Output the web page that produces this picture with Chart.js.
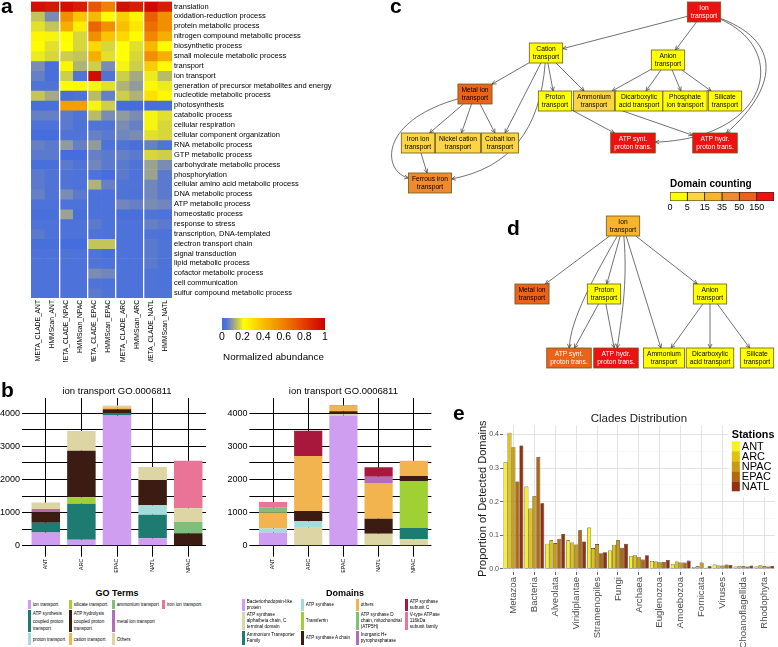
<!DOCTYPE html>
<html>
<head>
<meta charset="utf-8">
<title>ion transport figure</title>
<script src="https://cdn.jsdelivr.net/npm/chart.js@4.4.1/dist/chart.umd.min.js"></script>
<style>
  body { margin: 0; background: #fff; font-family: "Liberation Sans", Arial, sans-serif; }
  #page { position: relative; width: 778px; height: 647px; overflow: hidden; }
  canvas { position: absolute; }
  .tag { position: absolute; font-size: 21px; font-weight: bold; line-height: 1; }
  .ltitle { position: absolute; font-size: 9px; font-weight: bold; line-height: 1; transform: translateX(-50%); white-space: nowrap; }
  .legend { position: absolute; display: grid; grid-auto-flow: column; font-size: 4.6px; color: #000; }
  .legend div { border-left: 3px solid; padding-left: 1.8px; display: flex; align-items: center; white-space: pre-line; margin-bottom: 0.6px; }
</style>
</head>
<body>
<div id="page">
  <canvas id="heat" width="360" height="367" style="left:0;top:-5px"></canvas>
  <canvas id="heatBar" width="125" height="52" style="left:212px;top:311px"></canvas>
  <canvas id="goChart" width="212" height="205" style="left:0;top:383px"></canvas>
  <canvas id="domChart" width="225" height="205" style="left:210px;top:383px"></canvas>
  <canvas id="net" width="393" height="380" style="left:385px;top:0"></canvas>
  <canvas id="countBar" width="118" height="37" style="left:660px;top:176px"></canvas>
  <canvas id="clades" width="302" height="242" style="left:476px;top:405px"></canvas>

  <div class="ltitle" style="left:117px;top:589px">GO Terms</div>
  <div class="ltitle" style="left:345px;top:589px">Domains</div>
  <div id="goLegend" class="legend" style="left:28px;top:600px;grid-template-columns:41px 43px 50px 45px;grid-template-rows:10px 23px 13px"></div>
  <div id="domLegend" class="legend" style="left:242px;top:599px;grid-template-columns:59px 55px 49px 40px;grid-template-rows:13px 19px 15px"></div>

  <div class="tag" style="left:1px;top:-5px">a</div>
  <div class="tag" style="left:1px;top:379px">b</div>
  <div class="tag" style="left:390px;top:-5px">c</div>
  <div class="tag" style="left:507px;top:217px">d</div>
  <div class="tag" style="left:453px;top:402px">e</div>
</div>

<script>
const FONT = '"Liberation Sans", Arial, sans-serif';

// ---- a: heatmap ----
const heatCols = ['META_CLADE_ANT', 'HMMScan_ANT', 'META_CLADE_NPAC', 'HMMScan_NPAC', 'META_CLADE_EPAC',
  'HMMScan_EPAC', 'META_CLADE_ARC', 'HMMScan_ARC', 'META_CLADE_NATL', 'HMMScan_NATL'];
const heatRows = ['translation', 'oxidation-reduction process', 'protein metabolic process',
  'nitrogen compound metabolic process', 'biosynthetic process', 'small molecule metabolic process',
  'transport', 'ion transport', 'generation of precursor metabolites and energy',
  'nucleotide metabolic process', 'photosynthesis', 'catabolic process', 'cellular respiration',
  'cellular component organization', 'RNA metabolic process', 'GTP metabolic process',
  'carbohydrate metabolic process', 'phosphorylation', 'cellular amino acid metabolic process',
  'DNA metabolic process', 'ATP metabolic process', 'homeostatic process', 'response to stress',
  'transcription, DNA-templated', 'electron transport chain', 'signal transduction',
  'lipid metabolic process', 'cofactor metabolic process', 'cell communication',
  'sulfur compound metabolic process'];
const heatValues = [
  [0.95, 0.92, 0.95, 0.90, 0.72, 0.60, 0.95, 0.90, 0.97, 0.90],
  [0.15, 0.08, 0.55, 0.38, 0.42, 0.22, 0.35, 0.24, 0.70, 0.55],
  [0.18, 0.15, 0.45, 0.26, 0.68, 0.55, 0.40, 0.28, 0.65, 0.55],
  [0.24, 0.20, 0.22, 0.17, 0.55, 0.38, 0.32, 0.22, 0.58, 0.45],
  [0.22, 0.18, 0.21, 0.17, 0.32, 0.17, 0.21, 0.18, 0.42, 0.22],
  [0.19, 0.17, 0.16, 0.15, 0.45, 0.18, 0.21, 0.17, 0.55, 0.45],
  [0.08, 0.02, 0.24, 0.13, 0.16, 0.08, 0.20, 0.16, 0.36, 0.22],
  [0.06, 0.02, 0.16, 0.04, 0.96, 0.04, 0.16, 0.12, 0.19, 0.14],
  [0.04, 0.04, 0.22, 0.23, 0.20, 0.18, 0.13, 0.10, 0.23, 0.19],
  [0.15, 0.12, 0.02, 0.03, 0.14, 0.06, 0.16, 0.13, 0.30, 0.23],
  [0.02, 0.02, 0.50, 0.50, 0.20, 0.16, 0.01, 0.01, 0.02, 0.02],
  [0.06, 0.06, 0.05, 0.04, 0.14, 0.08, 0.10, 0.08, 0.20, 0.18],
  [0.03, 0.03, 0.05, 0.03, 0.04, 0.04, 0.08, 0.06, 0.20, 0.17],
  [0.01, 0.01, 0.04, 0.04, 0.06, 0.05, 0.07, 0.08, 0.18, 0.17],
  [0.06, 0.05, 0.10, 0.06, 0.10, 0.03, 0.04, 0.02, 0.06, 0.04],
  [0.05, 0.05, 0.01, 0.01, 0.06, 0.05, 0.06, 0.05, 0.17, 0.16],
  [0.02, 0.02, 0.05, 0.04, 0.07, 0.05, 0.05, 0.04, 0.11, 0.08],
  [0.05, 0.04, 0.04, 0.03, 0.03, 0.01, 0.05, 0.03, 0.11, 0.05],
  [0.05, 0.04, 0.04, 0.03, 0.13, 0.06, 0.04, 0.04, 0.07, 0.05],
  [0.06, 0.04, 0.08, 0.05, 0.03, 0.03, 0.04, 0.03, 0.07, 0.05],
  [0.03, 0.03, 0.03, 0.03, 0.03, 0.03, 0.07, 0.06, 0.08, 0.07],
  [0.02, 0.02, 0.11, 0.02, 0.03, 0.03, 0.02, 0.02, 0.04, 0.03],
  [0.03, 0.03, 0.03, 0.03, 0.05, 0.03, 0.03, 0.03, 0.06, 0.05],
  [0.05, 0.03, 0.03, 0.03, 0.03, 0.03, 0.03, 0.03, 0.04, 0.03],
  [0.02, 0.02, 0.01, 0.01, 0.15, 0.15, 0.03, 0.03, 0.05, 0.04],
  [0.03, 0.03, 0.04, 0.03, 0.04, 0.02, 0.03, 0.03, 0.05, 0.04],
  [0.03, 0.03, 0.03, 0.03, 0.04, 0.03, 0.03, 0.03, 0.05, 0.03],
  [0.03, 0.03, 0.03, 0.03, 0.08, 0.07, 0.03, 0.03, 0.04, 0.03],
  [0.03, 0.03, 0.03, 0.03, 0.04, 0.03, 0.03, 0.03, 0.04, 0.03],
  [0.03, 0.03, 0.03, 0.03, 0.05, 0.04, 0.03, 0.03, 0.04, 0.04]
];
const heatTicks = [0, 0.2, 0.4, 0.6, 0.8, 1];

// ---- b: stacked bars ----
const bCats = ['ANT', 'ARC', 'EPAC', 'NATL', 'NPAC'];
const bTicks = [0, 500, 1000, 1500, 2000, 2500, 3000, 3500, 4000];
const goTerms = ['ion transport', 'ATP synthesis\ncoupled proton\ntransport', 'proton transport',
  'silicate transport', 'ATP hydrolysis\ncoupled proton\ntransport', 'cation transport',
  'ammonium transport', 'metal ion transport', 'Others', 'iron ion transport'];
const goColors = ['#d09ef0', '#1e7b71', '#a3dcda', '#9fd135', '#3b1b12', '#f2b44f',
  '#7fbf7b', '#b36db8', '#ddd6a4', '#ea7497'];
const goValues = [
  [400, 181, 3930, 222, 0],
  [290, 1088, 80, 715, 0],
  [0, 0, 0, 282, 0],
  [0, 191, 0, 0, 0],
  [318, 1410, 110, 765, 373],
  [0, 0, 60, 0, 0],
  [0, 0, 0, 0, 342],
  [100, 0, 0, 0, 0],
  [200, 594, 50, 393, 413],
  [0, 0, 0, 0, 1440]
];
const domainNames = ['Bacteriorhodopsin-like\nprotein', 'ATP synthase\nalpha/beta chain, C\nterminal domain',
  'Ammonium Transporter\nFamily', 'ATP synthase', 'Transferrin', 'ATP synthase A chain', 'others',
  'ATP synthase D\nchain, mitochondrial\n(ATP5H)', 'Inorganic H+\npyrophosphatase',
  'ATP synthase\nsubunit C', 'V-type ATPase\n116kDa\nsubunit family'];
const domainColors = ['#d09ef0', '#ddd6a4', '#1e7b71', '#a3dcda', '#9fd135', '#3b1b12', '#f2b44f',
  '#7fbf7b', '#b36db8', '#a8183c', '#ea7497'];
const domainValues = [
  [400, 0, 3930, 0, 0],
  [0, 544, 40, 363, 191],
  [0, 0, 0, 0, 343],
  [123, 191, 0, 0, 0],
  [0, 0, 0, 0, 1420],
  [0, 312, 90, 453, 151],
  [474, 1662, 160, 1077, 463],
  [151, 0, 0, 0, 0],
  [0, 0, 0, 192, 0],
  [0, 765, 0, 282, 0],
  [171, 0, 20, 0, 0]
];

// ---- c, d: GO graphs ----
const countBins = [0, 5, 15, 35, 50, 150];
const binColors = ['#ffff00', '#fcd545', '#f7b52c', '#f08a30', '#eb6219', '#ee1111'];

const cNodes = ['Ion\ntransport', 'Cation\ntransport', 'Anion\ntransport', 'Metal ion\ntransport',
  'Proton\ntransport', 'Ammonium\ntransport', 'Dicarboxylic\nacid transport', 'Phosphate\nion transport',
  'Silicate\ntransport', 'Iron ion\ntransport', 'Nickel cation\ntransport', 'Cobalt ion\ntransport',
  'ATP synt.\nproton trans.', 'ATP hydr.\nproton trans.', 'Ferrous iron\ntransport'];
const cCounts = [210, 3, 3, 80, 3, 12, 3, 3, 3, 10, 10, 10, 190, 190, 40];
const cEdges = [[0, 1], [0, 2], [0, 12], [0, 13], [1, 3], [1, 4], [1, 5], [1, 11], [1, 14],
  [2, 5], [2, 6], [2, 7], [2, 8], [3, 9], [3, 10], [3, 11], [3, 14], [9, 14], [4, 12], [5, 13]];

const dNodes = ['Ion\ntransport', 'Metal ion\ntransport', 'Proton\ntransport', 'Anion\ntransport',
  'ATP synt.\nproton trans.', 'ATP hydr.\nproton trans.', 'Ammonium\ntransport',
  'Dicarboxylic\nacid transport', 'Silicate\ntransport'];
const dCounts = [20, 60, 3, 3, 60, 190, 3, 3, 3];
const dEdges = [[0, 1], [0, 2], [0, 3], [0, 4], [0, 5], [0, 6], [2, 4], [2, 5], [3, 6], [3, 7], [3, 8]];

// graph layout (layout units of the hidden scatter scales)
const cLayout = [[319, 12], [161, 53], [283, 60], [90, 94], [170, 101], [209, 101], [254, 101],
  [300, 101], [340, 101], [33, 143], [73, 143], [115, 143], [248, 143], [330, 143], [45, 183]];
const cBends = {
  '0-12': [[405, 50], [385, 138]],
  '0-13': [[405, 45], [385, 95]],
  '1-14': [[155, 130], [125, 168]],
  '3-14': [[-8, 122], [-2, 172]]
};
const dLayout = [[238, 226], [147, 294], [219, 294], [325, 294], [184, 358], [231, 358],
  [279, 358], [325, 358], [372, 358]];
const dBends = {
  '0-4': [[210, 275], [185, 320]],
  '0-5': [[243, 285], [236, 320]]
};

// ---- e: clades ----
const clades = ['Metazoa', 'Bacteria', 'Alveolata', 'Viridiplantae', 'Stramenopiles', 'Fungi', 'Archaea',
  'Euglenozoa', 'Amoebozoa', 'Fornicata', 'Viruses', 'Choanoflagellida', 'Rhodophyta'];
const stations = ['ANT', 'ARC', 'NPAC', 'EPAC', 'NATL'];
const stationColors = ['#f8f21c', '#e3c20c', '#c89b12', '#b3680c', '#962f0d'];
const antShare = [0.318, 0.245, 0.075, 0.085, 0.123, 0.055, 0.038, 0.024, 0.014, 0.006, 0.013, 0.007, 0.007];
const arcShare = [0.405, 0.180, 0.085, 0.079, 0.062, 0.072, 0.041, 0.022, 0.022, 0.008, 0.010, 0.009, 0.011];
const npacShare = [0.362, 0.217, 0.077, 0.073, 0.074, 0.085, 0.035, 0.020, 0.019, 0.019, 0.010, 0.008, 0.008];
const epacShare = [0.260, 0.333, 0.090, 0.115, 0.047, 0.063, 0.028, 0.021, 0.019, 0.004, 0.013, 0.007, 0.007];
const natlShare = [0.367, 0.195, 0.104, 0.082, 0.050, 0.075, 0.041, 0.027, 0.025, 0.008, 0.012, 0.010, 0.009];
const eTicks = [0, 0.05, 0.1, 0.15, 0.2, 0.25, 0.3, 0.35, 0.4];

Chart.defaults.animation = false;
Chart.defaults.responsive = false;
Chart.defaults.font.family = FONT;
Chart.defaults.color = '#000';
Chart.defaults.plugins.legend.display = false;
Chart.defaults.plugins.tooltip.enabled = false;

// colour scale of the heatmap
const heatStops = [[0, [66, 106, 224]], [0.04, [80, 116, 214]], [0.08, [122, 140, 180]],
  [0.12, [165, 170, 130]], [0.17, [215, 215, 60]], [0.21, [255, 255, 0]], [0.4, [248, 190, 0]],
  [0.6, [240, 128, 0]], [0.8, [226, 60, 0]], [1, [205, 0, 0]]];
function heatColor(v) {
  for (let i = 1; i < heatStops.length; i++) {
    const [p0, c0] = heatStops[i - 1];
    const [p1, c1] = heatStops[i];
    if (v <= p1) {
      const t = (v - p0) / (p1 - p0);
      return 'rgb(' + c0.map((c, k) => Math.round(c + (c1[k] - c) * t)).join(',') + ')';
    }
  }
  return 'rgb(205,0,0)';
}

new Chart(document.getElementById('heat'), {
  type: 'bar',
  data: {
    labels: heatCols,
    datasets: heatRows.map((r, i) => ({
      label: r,
      data: heatCols.map(() => 1),
      backgroundColor: heatValues[i].map(heatColor),
      borderWidth: 0,
      barPercentage: 1,
      categoryPercentage: 1
    }))
  },
  options: {
    layout: { padding: { left: 31 } },
    scales: {
      x: {
        stacked: true,
        border: { display: false },
        grid: {
          z: 1, offset: true, drawTicks: false, lineWidth: 1.3,
          color: c => [2, 4, 6, 8].includes(c.index) ? '#ffffff' : 'rgba(0,0,0,0)'
        },
        ticks: { minRotation: 90, maxRotation: 90, autoSkip: false, padding: 2, font: { size: 6.7 } },
        afterFit: s => { s.height = 64; }
      },
      y: {
        stacked: true, position: 'right', reverse: true, min: 0, max: heatRows.length,
        border: { display: false },
        grid: { display: false, drawTicks: false },
        afterBuildTicks: s => { s.ticks = heatRows.map((r, i) => ({ value: i + 0.5 })); },
        ticks: { autoSkip: false, padding: 2, font: { size: 7.5 }, callback: (v, i) => heatRows[i] },
        afterFit: s => { s.width = 188; }
      }
    }
  }
});

new Chart(document.getElementById('heatBar'), {
  type: 'bar',
  data: {
    labels: [''],
    datasets: [{
      data: [[heatTicks[0], heatTicks[heatTicks.length - 1]]],
      barPercentage: 1, categoryPercentage: 1,
      backgroundColor: c => {
        const a = c.chart.chartArea;
        if (!a) return '#ccc';
        const g = c.chart.ctx.createLinearGradient(a.left, 0, a.right, 0);
        heatStops.forEach(([p, col]) => g.addColorStop(p, 'rgb(' + col.join(',') + ')'));
        return g;
      }
    }]
  },
  options: {
    indexAxis: 'y',
    layout: { padding: { left: 10, right: 12, top: 7 } },
    scales: {
      x: {
        min: 0, max: 1,
        border: { display: false },
        grid: { display: false, drawTicks: false },
        afterBuildTicks: s => { s.ticks = heatTicks.map(v => ({ value: v })); },
        ticks: { padding: 1, maxRotation: 0, font: { size: 10.5 }, callback: v => String(v) },
        title: { display: true, text: 'Normalized abundance', font: { size: 9.8 }, padding: { top: 1, bottom: 0 } },
        afterFit: s => { s.height = 33; }
      },
      y: { display: false }
    }
  }
});

function stackOptions(yWidth, padRight) {
  return {
    layout: { padding: { right: padRight } },
    plugins: {
      title: {
        display: true, text: 'ion transport GO.0006811', fullSize: false,
        font: { size: 9.5, weight: 'normal' }, padding: { top: 3, bottom: 0.6 }
      }
    },
    scales: {
      x: {
        stacked: true,
        border: { display: false },
        grid: { offset: false, color: '#000', lineWidth: 1, tickLength: 11 },
        ticks: { minRotation: 90, maxRotation: 90, autoSkip: false, padding: 2, font: { size: 5.3 } },
        afterFit: s => { s.height = 42.3; }
      },
      y: {
        stacked: true, min: 0, max: 4460,
        border: { display: false },
        grid: { color: '#000', lineWidth: 1, tickLength: 6 },
        afterBuildTicks: s => { s.ticks = bTicks.map(v => ({ value: v })); },
        ticks: { padding: 2, font: { size: 9 }, callback: v => (v % 1000 === 0 ? v : '') },
        afterFit: s => { s.width = yWidth; }
      }
    }
  };
}

function stackData(names, colors, values) {
  return {
    labels: bCats,
    datasets: names.map((n, i) => ({
      label: n.replace(/\n/g, ' '),
      data: values[i],
      backgroundColor: colors[i],
      barPercentage: 0.8,
      categoryPercentage: 1
    }))
  };
}

new Chart(document.getElementById('goChart'), {
  type: 'bar',
  data: stackData(goTerms, goColors, goValues),
  options: stackOptions(28, 6)
});
new Chart(document.getElementById('domChart'), {
  type: 'bar',
  data: stackData(domainNames, domainColors, domainValues),
  options: stackOptions(45.4, 3.6)
});

function buildLegend(id, names, colors, lineH) {
  const el = document.getElementById(id);
  names.forEach((n, i) => {
    const d = document.createElement('div');
    d.style.borderLeftColor = colors[i];
    d.style.lineHeight = lineH + 'px';
    d.textContent = n;
    el.appendChild(d);
  });
}
buildLegend('goLegend', goTerms, goColors, 7.3);
buildLegend('domLegend', domainNames, domainColors, 6);

// GO graph boxes and arrows
function binColor(n) {
  let k = 0;
  countBins.forEach((b, i) => { if (n >= b) k = i; });
  return binColors[k];
}
function edgePoint(box, toward) {
  const dx = toward.x - box.x, dy = toward.y - box.y;
  const t = Math.min(dx ? box.hw / Math.abs(dx) : Infinity, dy ? box.hh / Math.abs(dy) : Infinity);
  return { x: box.x + dx * t, y: box.y + dy * t };
}
function arrowHead(ctx, from, to) {
  const ang = Math.atan2(to.y - from.y, to.x - from.x);
  ctx.beginPath();
  ctx.moveTo(to.x - 4.5 * Math.cos(ang - 0.45), to.y - 4.5 * Math.sin(ang - 0.45));
  ctx.lineTo(to.x, to.y);
  ctx.lineTo(to.x - 4.5 * Math.cos(ang + 0.45), to.y - 4.5 * Math.sin(ang + 0.45));
  ctx.stroke();
}

const netPlugin = {
  id: 'net',
  afterDatasetsDraw(chart) {
    const { ctx } = chart;
    const sx = chart.scales.x, sy = chart.scales.y;
    chart.data.datasets.forEach((ds, di) => {
      const pts = chart.getDatasetMeta(di).data;
      ctx.save();
      ctx.font = '6.7px ' + FONT;
      const boxes = ds.nodeNames.map((n, i) => {
        const lines = n.split('\n');
        const w = Math.max(...lines.map(l => ctx.measureText(l).width)) + 7;
        return { x: pts[i].x, y: pts[i].y, hw: w / 2, hh: 10, lines };
      });
      ctx.strokeStyle = '#333';
      ctx.lineWidth = 0.7;
      ds.links.forEach(([a, b]) => {
        const A = boxes[a], B = boxes[b];
        const bend = ds.bends[a + '-' + b];
        if (bend) {
          const c1 = { x: sx.getPixelForValue(bend[0][0]), y: sy.getPixelForValue(bend[0][1]) };
          const c2 = { x: sx.getPixelForValue(bend[1][0]), y: sy.getPixelForValue(bend[1][1]) };
          const p0 = edgePoint(A, c1), p1 = edgePoint(B, c2);
          ctx.beginPath();
          ctx.moveTo(p0.x, p0.y);
          ctx.bezierCurveTo(c1.x, c1.y, c2.x, c2.y, p1.x, p1.y);
          ctx.stroke();
          arrowHead(ctx, c2, p1);
        } else {
          const p0 = edgePoint(A, B), p1 = edgePoint(B, A);
          ctx.beginPath();
          ctx.moveTo(p0.x, p0.y);
          ctx.lineTo(p1.x, p1.y);
          ctx.stroke();
          arrowHead(ctx, p0, p1);
        }
      });
      boxes.forEach((b, i) => {
        const count = ds.nodeCounts[i];
        ctx.fillStyle = binColor(count);
        ctx.fillRect(b.x - b.hw, b.y - b.hh, b.hw * 2, b.hh * 2);
        ctx.strokeStyle = '#6a5a1a';
        ctx.lineWidth = 0.8;
        ctx.strokeRect(b.x - b.hw, b.y - b.hh, b.hw * 2, b.hh * 2);
        const light = count >= 150 || ds.nodeNames[i].startsWith('ATP');
        ctx.fillStyle = light ? '#fff' : '#000';
        ctx.textAlign = 'center';
        ctx.textBaseline = 'middle';
        ctx.fillText(b.lines[0], b.x, b.y - 4.2);
        ctx.fillText(b.lines[1], b.x, b.y + 4.2);
      });
      ctx.restore();
    });
  }
};

new Chart(document.getElementById('net'), {
  type: 'scatter',
  data: {
    datasets: [
      { nodeNames: cNodes, nodeCounts: cCounts, links: cEdges, bends: cBends,
        data: cLayout.map(([x, y]) => ({ x, y })), pointRadius: 0 },
      { nodeNames: dNodes, nodeCounts: dCounts, links: dEdges, bends: dBends,
        data: dLayout.map(([x, y]) => ({ x, y })), pointRadius: 0 }
    ]
  },
  options: {
    layout: { padding: 0 },
    scales: {
      x: { display: false, min: 0, max: 393 },
      y: { display: false, min: 0, max: 380, reverse: true }
    }
  },
  plugins: [netPlugin]
});

new Chart(document.getElementById('countBar'), {
  type: 'bar',
  data: {
    labels: [''],
    datasets: binColors.map(c => ({
      data: [1], backgroundColor: c, borderColor: '#222', borderWidth: 0.8,
      borderSkipped: false, barPercentage: 1, categoryPercentage: 1
    }))
  },
  options: {
    indexAxis: 'y',
    layout: { padding: { left: 10, right: 4 } },
    plugins: {
      title: {
        display: true, text: 'Domain counting', align: 'start', fullSize: false,
        font: { size: 10, weight: 'bold' }, padding: { top: 2, bottom: 2 }
      }
    },
    scales: {
      x: {
        stacked: true, min: 0, max: countBins.length,
        border: { display: false },
        grid: { display: false, drawTicks: false },
        afterBuildTicks: s => { s.ticks = countBins.map((b, i) => ({ value: i })); },
        ticks: { padding: 1, maxRotation: 0, font: { size: 9 }, callback: (v, i) => countBins[i] },
        afterFit: s => { s.height = 12; }
      },
      y: { stacked: true, display: false }
    }
  }
});

const stationsLegend = {
  id: 'stations',
  afterDraw(chart) {
    const { ctx, chartArea: a } = chart;
    const x0 = a.right - 43;
    ctx.save();
    ctx.fillStyle = '#fff';
    ctx.fillRect(x0 - 3, a.top, chart.width - x0 + 3, 72);
    ctx.fillStyle = '#000';
    ctx.font = 'bold 10.8px ' + FONT;
    ctx.textBaseline = 'middle';
    ctx.textAlign = 'left';
    ctx.fillText('Stations', x0, a.top + 10);
    ctx.font = '11px ' + FONT;
    chart.data.datasets.forEach((ds, i) => {
      const y = a.top + 16 + i * 10;
      ctx.fillStyle = ds.backgroundColor;
      ctx.fillRect(x0, y, 8, 10);
      ctx.fillStyle = '#000';
      ctx.fillText(ds.label, x0 + 10, y + 5.5);
    });
    ctx.restore();
  }
};

new Chart(document.getElementById('clades'), {
  type: 'bar',
  data: {
    labels: clades,
    datasets: [antShare, arcShare, npacShare, epacShare, natlShare].map((d, i) => ({
      label: stations[i], data: d, backgroundColor: stationColors[i],
      borderColor: '#1a1a1a', borderWidth: 0.6, borderSkipped: false,
      barPercentage: 1, categoryPercentage: 0.95
    }))
  },
  options: {
    layout: { padding: { right: 2 } },
    plugins: {
      title: {
        display: true, text: 'Clades Distribution', fullSize: false, color: '#1a1a1a',
        font: { size: 11.5, weight: 'normal' }, padding: { top: 6.5, bottom: 0 }
      }
    },
    scales: {
      x: {
        border: { display: false },
        grid: { offset: false, color: '#dcdcdc', lineWidth: 0.8, tickLength: 3, tickColor: '#444' },
        ticks: { minRotation: 90, maxRotation: 90, autoSkip: false, padding: 2, color: '#4d4d4d', font: { size: 9.6 } },
        afterFit: s => { s.height = 75; }
      },
      y: {
        min: -0.009, max: 0.427,
        border: { display: false },
        grid: {
          color: c => (c.index % 2 === 0 ? '#dcdcdc' : '#efefef'),
          lineWidth: c => (c.index % 2 === 0 ? 0.8 : 0.5),
          tickLength: 3,
          tickColor: c => (c.index % 2 === 0 ? '#444' : 'rgba(0,0,0,0)')
        },
        afterBuildTicks: s => { s.ticks = eTicks.map(v => ({ value: v })); },
        ticks: { padding: 1, color: '#4d4d4d', font: { size: 7 }, callback: (v, i) => (i % 2 === 0 ? eTicks[i].toFixed(1) : '') },
        title: { display: true, text: 'Proportion of Detected Domains', color: '#1a1a1a', font: { size: 11 }, padding: 0 },
        afterFit: s => { s.width = 27; }
      }
    }
  },
  plugins: [stationsLegend]
});
</script>
</body>
</html>
